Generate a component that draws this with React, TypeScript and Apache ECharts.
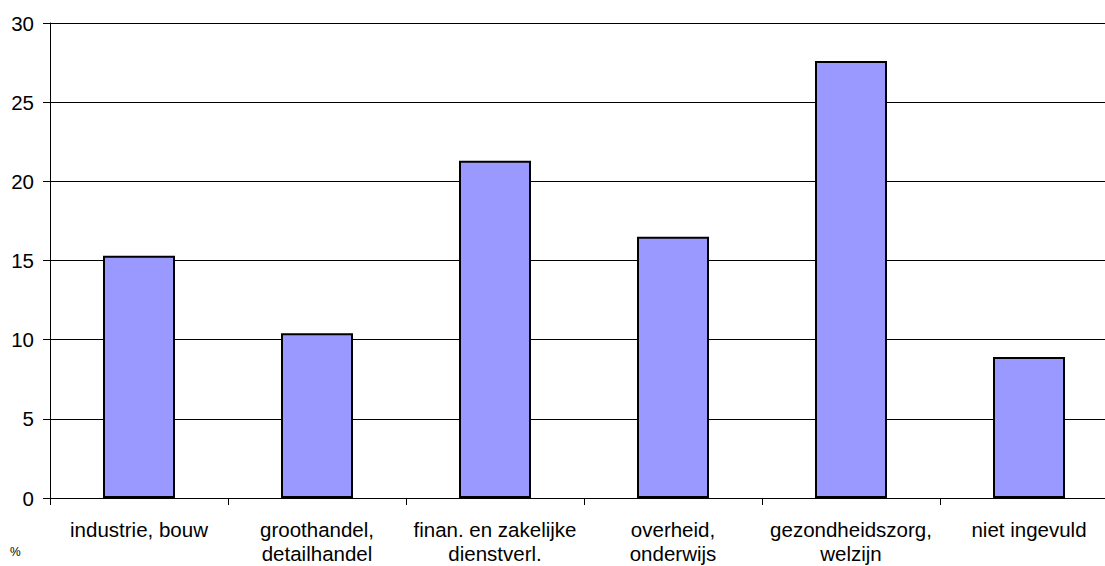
import React, { useEffect, useRef } from "react";
import * as echarts from "echarts";

const categories = [
  "industrie, bouw",
  "groothandel,\ndetailhandel",
  "finan. en zakelijke\ndienstverl.",
  "overheid,\nonderwijs",
  "gezondheidszorg,\nwelzijn",
  "niet ingevuld",
];
const values = [15.3, 10.4, 21.3, 16.5, 27.6, 8.9];
const yTicks = [0, 5, 10, 15, 20, 25, 30];

export default function App() {
  const ref = useRef<HTMLDivElement>(null);
  useEffect(() => {
    if (!ref.current) return;
    const chart = echarts.init(ref.current, null, { renderer: "svg" });
    const font = "Liberation Sans, Arial, sans-serif";
    chart.setOption({
      animation: false,
      backgroundColor: "#ffffff",
      textStyle: { fontFamily: font },
      grid: { left: 50, top: 23, right: 12, height: 475, containLabel: false },
      xAxis: {
        type: "category",
        data: categories,
        axisLine: { show: true, lineStyle: { color: "#000", width: 1 } },
        axisTick: { show: true, alignWithLabel: false, length: 7, lineStyle: { color: "#000" } },
        axisLabel: {
          color: "#000",
          fontSize: 20.5,
          lineHeight: 24,
          margin: 19,
          interval: 0,
          fontFamily: font,
        },
        splitLine: { show: false },
      },
      yAxis: {
        type: "value",
        min: yTicks[0],
        max: yTicks[yTicks.length - 1],
        interval: 5,
        axisLine: { show: true, lineStyle: { color: "#000", width: 1 } },
        axisTick: { show: true, length: 7, lineStyle: { color: "#000" } },
        axisLabel: {
          color: "#000",
          fontSize: 20.5,
          margin: 16,
          fontFamily: font,
        },
        splitLine: { show: true, lineStyle: { color: "#000", width: 1 } },
      },
      series: [
        {
          type: "bar",
          data: values,
          barWidth: 72,
          itemStyle: { color: "#9999FF", borderColor: "#000", borderWidth: 2 },
        },
      ],
      graphic: [
        {
          type: "text",
          left: 10,
          top: 546,
          style: { text: "%", fontSize: 12, fill: "#000", fontFamily: font },
        },
      ],
    });
    return () => chart.dispose();
  }, []);
  return (
    <div style={{ position: "fixed", left: 0, top: 0, width: 1105, height: 566, overflow: "hidden" }}>
      <div ref={ref} style={{ width: 1130, height: 566 }} />
    </div>
  );
}
